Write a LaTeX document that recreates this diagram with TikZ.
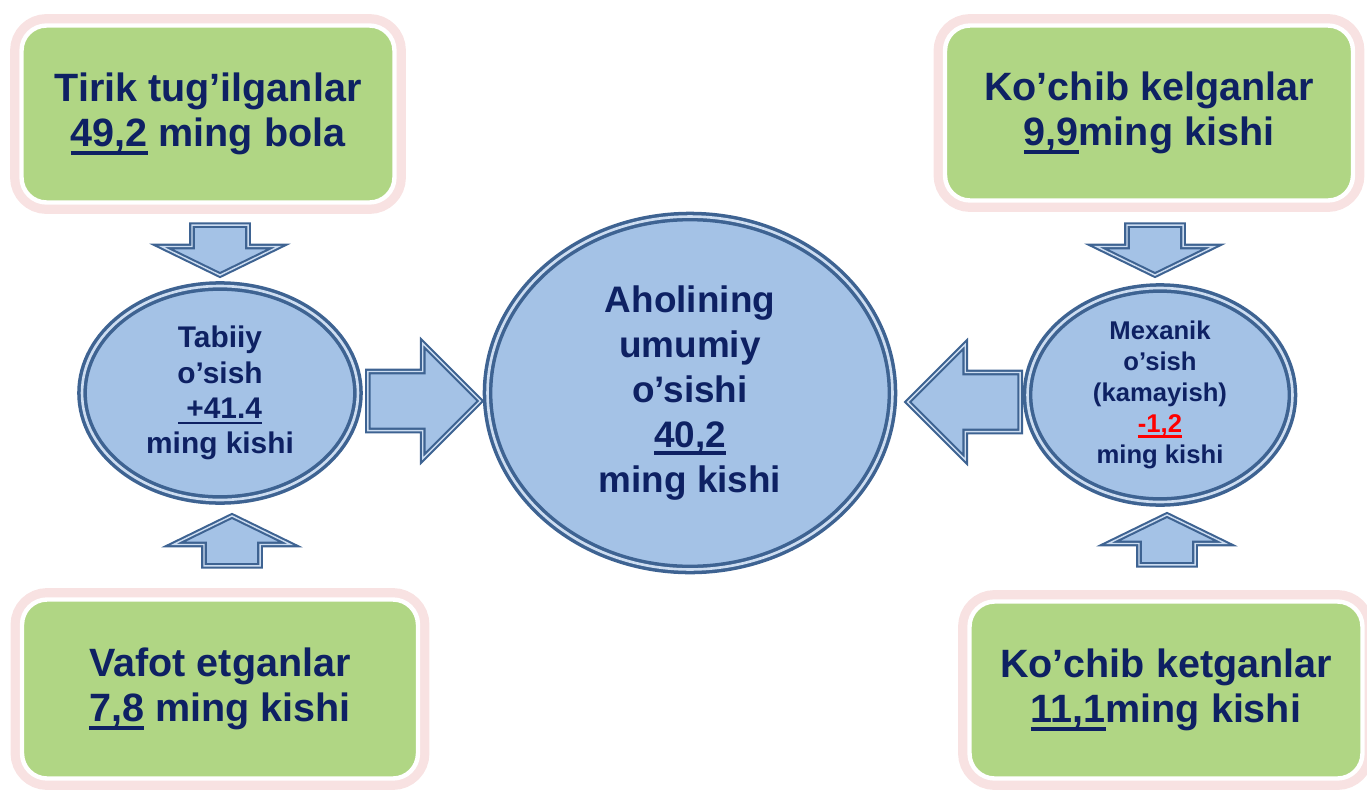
\documentclass[tikz,border=0pt]{standalone}
\usepackage{fontspec}
\setmainfont{Liberation Sans}
\usetikzlibrary{positioning,calc,shapes.geometric,shapes.arrows}

\definecolor{boxgreen}{RGB}{176,214,132}
\definecolor{glowpink}{RGB}{248,226,226}
\definecolor{ovalblue}{RGB}{164,194,230}
\definecolor{ovaledge}{RGB}{62,99,146}
\definecolor{navytext}{RGB}{14,33,99}

% thick underline for the numbers
\newcommand{\ulnum}[1]{\leavevmode\setbox0=\hbox{#1}\rlap{\rule[-0.2em]{\wd0}{0.09em}}\box0\relax}

\tikzset{
  greenbox/.style={rounded corners=0.5cm, fill=boxgreen, draw=white, line width=2.5pt,
    preaction={draw=glowpink, line width=13pt},
    text=navytext, font=\fontsize{22.5}{26}\selectfont\bfseries, align=center},
  oval/.style={ellipse, fill=ovalblue, draw=ovaledge, line width=2pt,
    double=ovalblue!55!white, double distance=1.5pt,
    text=navytext, align=center, inner sep=0pt},
  blockarrow/.style={single arrow, fill=ovalblue, draw=ovaledge, line width=1.2pt,
    double=ovalblue!55!white, double distance=0.8pt,
    inner xsep=0pt, single arrow head indent=0pt, anchor=tip},
  vblock/.style={blockarrow, minimum height=1.0cm, inner ysep=0.54cm,
    single arrow head extend=0.61cm, single arrow tip angle=128},
  hblock/.style={blockarrow, minimum height=2.25cm, inner ysep=0.57cm,
    single arrow head extend=0.56cm, single arrow tip angle=90}
}

\begin{document}
\begin{tikzpicture}[x=0.02cm,y=-0.02cm]
  \useasboundingbox (0,0) rectangle (1367,798);

  % four green boxes
  \node[greenbox, minimum width=7.46cm, minimum height=3.54cm] (born) at (208,114)
    {Tirik tug’ilganlar\\\ulnum{49,2} ming bola};
  \node[greenbox, minimum width=8.16cm, minimum height=3.5cm] (arrived) at (1149,113)
    {Ko’chib kelganlar\\\ulnum{9,9}ming kishi};
  \node[greenbox, minimum width=7.92cm, minimum height=3.58cm] (died) at (220,689)
    {Vafot etganlar\\\ulnum{7,8} ming kishi};
  \node[greenbox, minimum width=7.86cm, minimum height=3.54cm] (departed) at (1166,690)
    {Ko’chib ketganlar\\\ulnum{11,1}ming kishi};

  % three ovals
  \node[oval, minimum width=5.52cm, minimum height=4.28cm,
    font=\fontsize{17}{20}\selectfont\bfseries] (natural) at (220,393)
    {Tabiiy\\o’sish\\\ulnum{~+41.4}\\ming kishi};
  \node[oval, minimum width=8.1cm, minimum height=7.06cm,
    font=\fontsize{21}{25.5}\selectfont\bfseries] (total) at (690,393)
    {Aholining\\umumiy\\o’sishi\\\ulnum{40,2}\\ming kishi};
  \node[oval, minimum width=5.3cm, minimum height=4.28cm,
    font=\fontsize{14.6}{17.6}\selectfont\bfseries] (mech) at (1160,395)
    {Mexanik\\o’sish\\(kamayish)\\\textcolor{red}{\ulnum{-1,2}}\\ming kishi};

  % block arrows, placed by their tips
  \node[vblock, rotate=-90] (inborn) at ($(natural.north)+(0,-8)$) {};
  \node[vblock, rotate=90] (indied) at ($(natural.south)+(12,13)$) {};
  \node[vblock, rotate=-90] (inarrived) at ($(mech.north)+(-5,-10)$) {};
  \node[vblock, rotate=90] (indeparted) at ($(mech.south)+(7,10)$) {};
  \node[hblock] (tonat) at ($(total.west)+(-4,8)$) {};
  \node[hblock, rotate=180] (tomech) at ($(total.east)+(12,9)$) {};
\end{tikzpicture}
\end{document}
